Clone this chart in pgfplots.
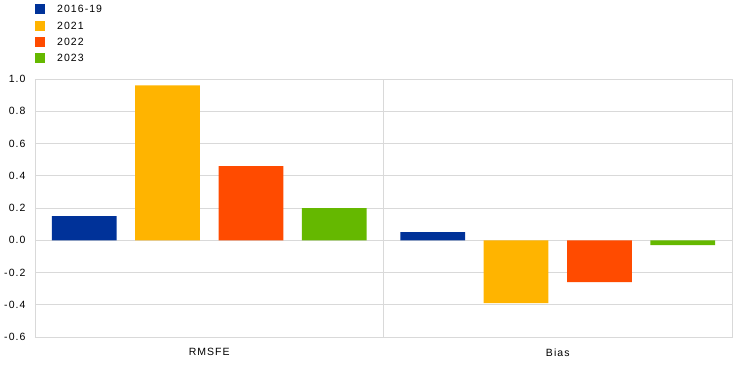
\documentclass[border=0pt]{standalone}
\usepackage{fontspec}
\setmainfont[LetterSpace=10]{Liberation Sans}
\usepackage{pgfplots}
\pgfplotsset{compat=1.18}
\definecolor{cBlue}{HTML}{003299}
\definecolor{cYellow}{HTML}{FFB400}
\definecolor{cRed}{HTML}{FF4B00}
\definecolor{cGreen}{HTML}{65B800}
\definecolor{cGrid}{HTML}{D9D9D9}
\begin{document}
\begin{tikzpicture}
\useasboundingbox (-35pt,-28pt) rectangle (709pt,337pt);
\begin{axis}[
  at={(0,0)}, anchor=south west,
  scale only axis, width=697pt, height=258pt,
  xmin=-0.5, xmax=1.5, ymin=-0.6, ymax=1.0,
  ytick={-0.6,-0.4,-0.2,0,0.2,0.4,0.6,0.8,1.0},
  yticklabel={\pgfmathprintnumber[fixed,fixed zerofill,precision=1,assume math mode=true]{\tick}},
  xtick={0.5}, xticklabels={},
  extra x ticks={0,1}, extra x tick labels={RMSFE,Bias},
  extra x tick style={grid=none},
  xmajorgrids, ymajorgrids,
  grid style={draw=cGrid, line width=0.8pt},
  axis line style={draw=cGrid, line width=0.8pt},
  major tick length=0pt,
  tick label style={font=\fontsize{10.5}{12}\selectfont},
  yticklabel style={xshift=-6pt},
  xticklabel style={yshift=-8pt},
  legend style={at={(0,1.2905)}, anchor=north west, draw=none, fill=none,
    inner sep=0pt, row sep=5.3pt, font=\fontsize{10.5}{12}\selectfont,
    nodes={inner sep=0pt, anchor=west, text height=7.5pt, text depth=2.5pt}},
  legend cell align=left,
  legend image code/.code={\fill[#1] (0pt,-4pt) rectangle (10pt,6pt); \path (22pt,0pt);},
]
\addplot[ybar, fill=cBlue, draw=none, bar width=0.186, bar shift=-0.3587] coordinates {(0,0.15) (1,0.05)};
\addlegendentry{2016-19}
\addplot[ybar, fill=cYellow, draw=none, bar width=0.186, bar shift=-0.1196] coordinates {(0,0.96) (1,-0.39)};
\addlegendentry{2021}
\addplot[ybar, fill=cRed, draw=none, bar width=0.186, bar shift=0.1196] coordinates {(0,0.46) (1,-0.26)};
\addlegendentry{2022}
\addplot[ybar, fill=cGreen, draw=none, bar width=0.186, bar shift=0.3587] coordinates {(0,0.20) (1,-0.03)};
\addlegendentry{2023}
\end{axis}
\end{tikzpicture}
\end{document}
